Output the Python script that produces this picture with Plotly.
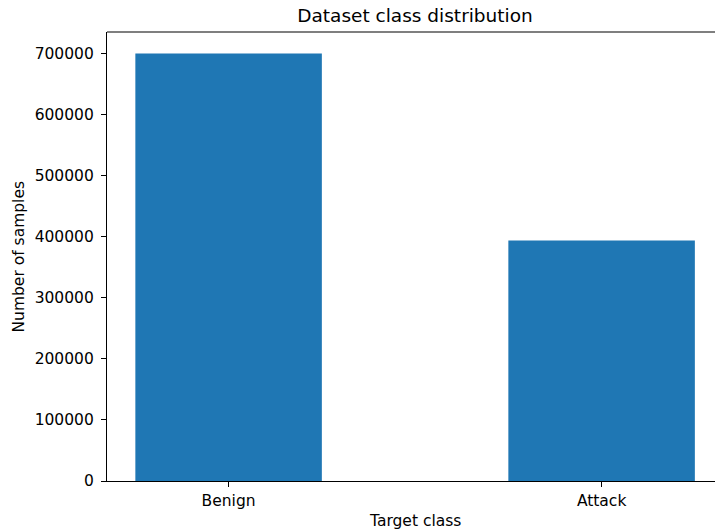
import plotly.graph_objects as go

categories = ["Benign", "Attack"]
samples = [700300, 394200]

fig = go.Figure()
fig.add_trace(go.Bar(x=[0, 1], y=samples, width=0.5, marker=dict(color="#1f77b4", line=dict(width=0))))

font = dict(family="DejaVu Sans", size=15.5, color="black")
fig.update_layout(
    width=715, height=532,
    margin=dict(l=107, r=0, t=31.5, b=51, autoexpand=False),
    plot_bgcolor="white", paper_bgcolor="white",
    font=font,
    showlegend=False,
    title=dict(text="Dataset class distribution", x=415 / 715, xanchor="center", xref="container",
               y=1 - 16 / 532, yanchor="middle", yref="container", font=dict(size=18.5, color="black")),
    xaxis=dict(
        range=[-0.326, 1.304], tickmode="array", tickvals=[0, 1], ticktext=categories,
        showline=True, linecolor="black", linewidth=1.2, ticks="outside", ticklen=5, tickwidth=1.2,
        tickcolor="black", showgrid=False, zeroline=False, automargin=False,
        tickfont=dict(size=15.5),
    ),
    yaxis=dict(
        range=[0, 735700], dtick=100000, tickformat="d",
        showline=True, linecolor="black", linewidth=1.2, ticks="outside", ticklen=5, tickwidth=1.2,
        tickcolor="black", showgrid=False, zeroline=False, automargin=False,
        tickfont=dict(size=15.5), ticklabelstandoff=4,
    ),
)
fig.add_shape(type="line", xref="paper", yref="paper", x0=0, x1=1, y0=1, y1=1,
              line=dict(color="black", width=1.2))
fig.add_annotation(text="Target class", xref="paper", yref="paper", x=(415 - 107) / (715 - 107),
                   y=-(521 - 481) / (481 - 31.5), xanchor="center", yanchor="middle",
                   showarrow=False, font=dict(size=15.5, color="black"))
fig.add_annotation(text="Number of samples", xref="paper", yref="paper", x=-(107 - 18) / (715 - 107),
                   y=0.5, xanchor="center", yanchor="middle", textangle=-90,
                   showarrow=False, font=dict(size=15.5, color="black"))
fig.write_html("out.html", config={"displayModeBar": False},
               post_script="document.body.style.margin='0';document.body.style.overflow='hidden';")
